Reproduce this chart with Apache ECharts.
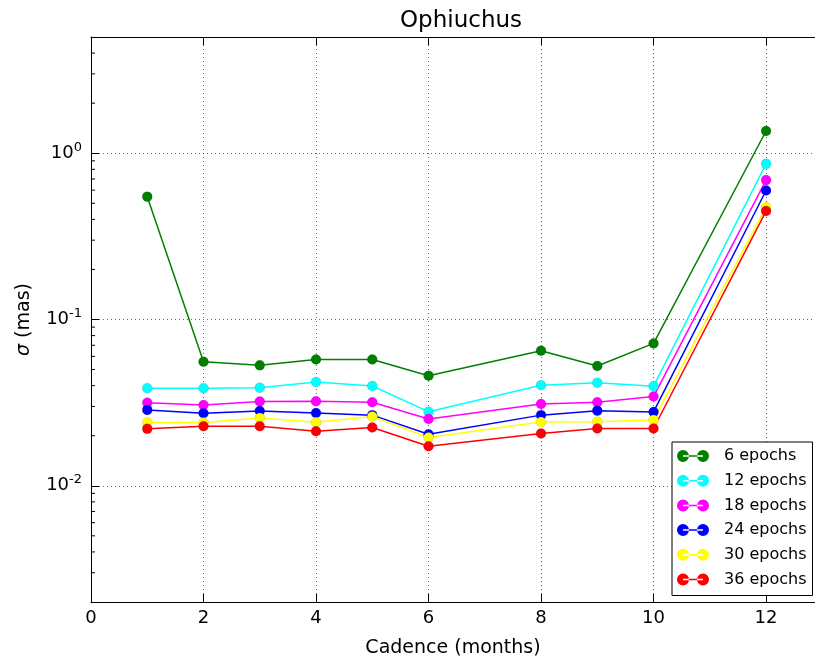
<!DOCTYPE html>
<html>
<head>
<meta charset="utf-8">
<script src="https://cdn.jsdelivr.net/npm/echarts@6/dist/echarts.min.js"></script>
<style>
html,body{margin:0;padding:0;background:#fff;}
#chart{width:815px;height:663px;}
</style>
</head>
<body>
<div id="chart"></div>
<script>
// Data
var cadences = [1, 2, 3, 4, 5, 6, 8, 9, 10, 12];
var seriesNames = ['6 epochs', '12 epochs', '18 epochs', '24 epochs', '30 epochs', '36 epochs'];
var epochs6  = [0.548, 0.0557, 0.0530, 0.0575, 0.0575, 0.0459, 0.0649, 0.0525, 0.0718, 1.36];
var epochs12 = [0.0386, 0.0386, 0.0389, 0.0421, 0.0398, 0.0279, 0.0402, 0.0417, 0.0397, 0.863];
var epochs18 = [0.0316, 0.0306, 0.0321, 0.0322, 0.0318, 0.0252, 0.0310, 0.0318, 0.0344, 0.689];
var epochs24 = [0.0286, 0.0273, 0.0282, 0.0274, 0.0266, 0.0204, 0.0266, 0.0283, 0.0278, 0.597];
var epochs30 = [0.0240, 0.0240, 0.0256, 0.0241, 0.0261, 0.0195, 0.0242, 0.0243, 0.0249, 0.474];
var epochs36 = [0.0220, 0.0228, 0.0228, 0.0213, 0.0224, 0.0173, 0.0206, 0.0221, 0.0221, 0.449];
var seriesColors = ['#008000', '#00ffff', '#ff00ff', '#0000ff', '#ffff00', '#ff0000'];
var xTicks = [0, 2, 4, 6, 8, 10, 12];

var allValues = [epochs6, epochs12, epochs18, epochs24, epochs30, epochs36];

var chart = echarts.init(document.getElementById('chart'), null, {renderer: 'canvas'});
var FONT = 'DejaVu Sans';
var gridStyle = {color: '#000', width: 0.6, type: [1, 3]};

var series = allValues.map(function (vals, i) {
  return {
    name: seriesNames[i],
    type: 'line',
    data: cadences.map(function (c, j) { return [c, vals[j]]; }),
    symbol: 'circle',
    symbolSize: 10,
    showSymbol: true,
    lineStyle: {color: seriesColors[i], width: 1.5},
    itemStyle: {color: seriesColors[i], borderColor: 'rgba(0,0,0,0.2)', borderWidth: 0.5},
    emphasis: {disabled: true},
    animation: false
  };
});

function supLabel(v) {
  var e = Math.round(Math.log10(v));
  return '{b|10}{s|' + (e < 0 ? '-' + (-e) : e) + '}';
}

var option = {
  animation: false,
  textStyle: {fontFamily: FONT},
  title: {
    text: 'Ophiuchus',
    left: 456, top: 5, textAlign: 'center',
    textStyle: {fontFamily: FONT, fontSize: 23, fontWeight: 'normal', color: '#000'}
  },
  grid: {left: 91, right: 0, top: 37, bottom: 60, containLabel: false},
  xAxis: [{
    type: 'value', min: 0, max: 12.87, interval: 2,
    position: 'bottom',
    name: 'Cadence (months)', nameLocation: 'middle', nameGap: 37,
    nameTextStyle: {fontFamily: FONT, fontSize: 19, color: '#000'},
    axisLine: {show: true, onZero: false, lineStyle: {color: '#000', width: 1}},
    axisTick: {show: true, inside: true, length: 8, lineStyle: {color: '#000'}},
    axisLabel: {show: true, margin: 7, fontFamily: FONT, fontSize: 18, color: '#000', showMaxLabel: false,
      formatter: function (v) { return xTicks.indexOf(v) >= 0 ? String(v) : ''; }},
    splitLine: {show: true, lineStyle: gridStyle}
  }, {
    type: 'value', min: 0, max: 12.87, interval: 2,
    position: 'top',
    axisLine: {show: true, onZero: false, lineStyle: {color: '#000', width: 1}},
    axisTick: {show: true, inside: true, length: 8, lineStyle: {color: '#000'}},
    axisLabel: {show: false},
    splitLine: {show: false}
  }],
  yAxis: [{
    type: 'log', logBase: 10, min: 0.002, max: 5,
    name: '{i|σ} (mas)', nameLocation: 'middle', nameGap: 57,
    nameTextStyle: {fontFamily: FONT, fontSize: 19, color: '#000',
      rich: {i: {fontFamily: FONT, fontSize: 19, fontStyle: 'italic', color: '#000'}}},
    axisLine: {show: true, onZero: false, lineStyle: {color: '#000', width: 1}},
    axisTick: {show: true, inside: true, length: 8, lineStyle: {color: '#000'}},
    axisLabel: {
      show: true, margin: 9, showMinLabel: false, showMaxLabel: false,
      formatter: supLabel,
      rich: {
        b: {fontFamily: FONT, fontSize: 18, color: '#000'},
        s: {fontFamily: FONT, fontSize: 13, color: '#000', verticalAlign: 'bottom', padding: [0, 0, 12, 0]}
      }
    },
    splitLine: {show: true, lineStyle: gridStyle}
  }],
  legend: {
    orient: 'vertical',
    left: 672, top: 442,
    data: seriesNames,
    icon: 'path://M0,6a6,6 0 1,0 12,0a6,6 0 1,0 -12,0z M20,6a6,6 0 1,0 12,0a6,6 0 1,0 -12,0z M6,5.25h20v1.5h-20z',
    itemWidth: 32, itemHeight: 12, itemGap: 8.7,
    itemStyle: {borderWidth: 0},
    lineStyle: {width: 0},
    padding: [6, 6, 8, 5],
    borderColor: '#000', borderWidth: 1, borderRadius: 0,
    backgroundColor: '#fff',
    textStyle: {fontFamily: FONT, fontSize: 16, color: '#000', padding: [0, 0, 0, 10]},
    selectedMode: false
  },
  series: series
};
chart.setOption(option);

// Log-axis minor ticks at 2..9 x 10^k, placed through the axis scale
var minor = [];
var x0 = chart.convertToPixel({xAxisIndex: 0}, 0);
for (var d = -3; d <= 0; d++) {
  for (var m = 2; m <= 9; m++) {
    var v = m * Math.pow(10, d);
    if (v <= 0.002 || v >= 5) continue;
    var y = chart.convertToPixel({yAxisIndex: 0}, v);
    minor.push({type: 'line', shape: {x1: x0, y1: y, x2: x0 + 4, y2: y},
      style: {stroke: '#000', lineWidth: 1}, silent: true, z: 10});
  }
}
chart.setOption({graphic: minor});
</script>
</body>
</html>
